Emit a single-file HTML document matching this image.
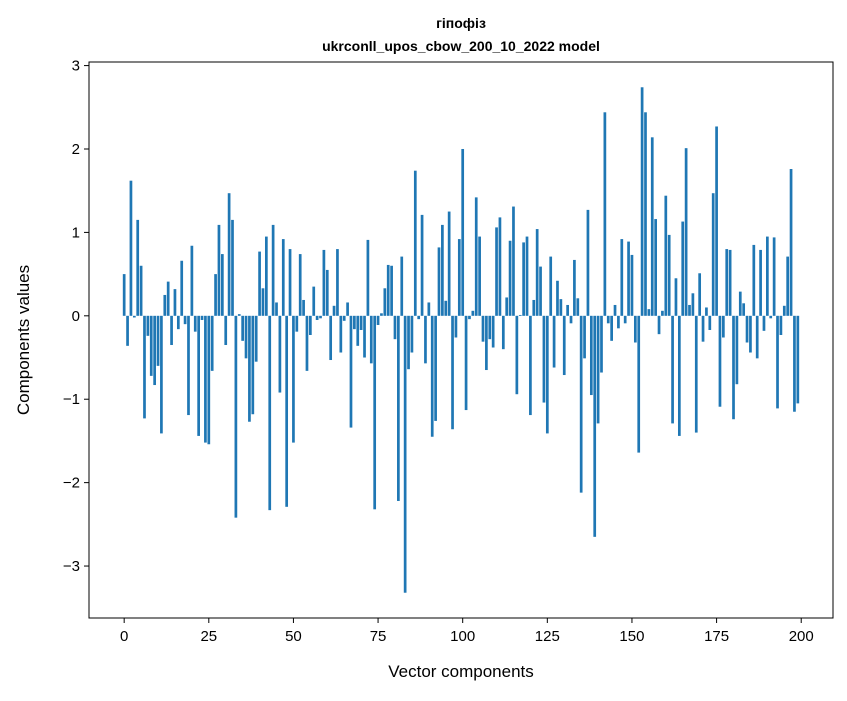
<!DOCTYPE html>
<html><head><meta charset="utf-8"><style>
body{margin:0;background:#fff;}
svg text{font-family:"Liberation Sans","DejaVu Sans",sans-serif;fill:#000;}
</style></head><body>
<svg id="chart" width="847" height="696" xmlns="http://www.w3.org/2000/svg">
<rect width="847" height="696" fill="#fff"/>
<text x="461" y="28" text-anchor="middle" font-size="14" font-weight="bold">гіпофіз</text>
<text x="461" y="51" text-anchor="middle" font-size="14" font-weight="bold">ukrconll_upos_cbow_200_10_2022 model</text>
<g id="bars"></g>
<g id="xticks"></g>
<g id="yticks"></g>
<rect x="89" y="62" width="744" height="556" fill="none" stroke="#000" stroke-width="1"/>
<text x="461" y="677" text-anchor="middle" font-size="17">Vector components</text>
<text x="0" y="0" transform="translate(29,340) rotate(-90)" text-anchor="middle" font-size="17">Components values</text>
</svg>
<script>
const values = [0.50,-0.36,1.62,-0.02,1.15,0.60,-1.23,-0.24,-0.72,-0.83,
-0.60,-1.41,0.25,0.41,-0.35,0.32,-0.16,0.66,-0.10,-1.19,
0.84,-0.19,-1.44,-0.05,-1.52,-1.54,-0.66,0.50,1.09,0.74,
-0.35,1.47,1.15,-2.42,0.02,-0.30,-0.51,-1.27,-1.18,-0.55,
0.77,0.33,0.95,-2.33,1.09,0.16,-0.92,0.92,-2.29,0.80,
-1.52,-0.19,0.74,0.19,-0.66,-0.23,0.35,-0.05,-0.03,0.79,
0.55,-0.53,0.12,0.80,-0.44,-0.06,0.16,-1.34,-0.16,-0.36,
-0.17,-0.50,0.91,-0.57,-2.32,-0.11,0.03,0.33,0.61,0.60,
-0.28,-2.22,0.71,-3.32,-0.64,-0.44,1.74,-0.04,1.21,-0.57,
0.16,-1.45,-1.26,0.82,1.09,0.18,1.25,-1.36,-0.26,0.92,
2.00,-1.13,-0.04,0.06,1.42,0.95,-0.31,-0.65,-0.28,-0.38,
1.06,1.18,-0.40,0.22,0.90,1.31,-0.94,0.01,0.88,0.95,
-1.19,0.19,1.04,0.59,-1.04,-1.41,0.71,-0.62,0.42,0.20,
-0.71,0.13,-0.09,0.67,0.21,-2.12,-0.51,1.27,-0.95,-2.65,
-1.29,-0.68,2.44,-0.09,-0.30,0.13,-0.15,0.92,-0.09,0.89,
0.73,-0.32,-1.64,2.74,2.44,0.08,2.14,1.16,-0.22,0.06,
1.44,0.97,-1.29,0.45,-1.44,1.13,2.01,0.13,0.27,-1.40,
0.51,-0.31,0.10,-0.17,1.47,2.27,-1.09,-0.26,0.80,0.79,
-1.24,-0.82,0.29,0.15,-0.32,-0.44,0.85,-0.51,0.79,-0.18,
0.95,-0.03,0.94,-1.11,-0.23,0.12,0.71,1.76,-1.15,-1.05];
const xTickLabels = [0,25,50,75,100,125,150,175,200];
const yTickLabels = [-3,-2,-1,0,1,2,3];

const NS="http://www.w3.org/2000/svg";
const L=89,R=833,T=62,B=618;
const n=values.length;
const xmin=-0.4-0.05*(n-0.2), xmax=(n-0.6)+0.05*(n-0.2);
const vmax=Math.max(0,...values), vmin=Math.min(0,...values);
const pad=0.05*(vmax-vmin);
const ymin=vmin-pad, ymax=vmax+pad;
const xs=v=>L+(v-xmin)/(xmax-xmin)*(R-L);
const ys=v=>B-(v-ymin)/(ymax-ymin)*(B-T);

const gb=document.getElementById('bars');
values.forEach((v,i)=>{
  const r=document.createElementNS(NS,'rect');
  const x0=xs(i-0.4), x1=xs(i+0.4);
  const y0=ys(Math.max(0,v)), y1=ys(Math.min(0,v));
  r.setAttribute('x',x0);r.setAttribute('width',x1-x0);
  r.setAttribute('y',y0);r.setAttribute('height',Math.max(0,y1-y0));
  r.setAttribute('fill','#1f77b4');
  
  
  gb.appendChild(r);
});
const gx=document.getElementById('xticks');
xTickLabels.forEach(t=>{
  const x=xs(t);
  const l=document.createElementNS(NS,'line');
  l.setAttribute('x1',x);l.setAttribute('x2',x);l.setAttribute('y1',B);l.setAttribute('y2',B+5);
  l.setAttribute('stroke','#000');
  
  
  gx.appendChild(l);
  const tx=document.createElementNS(NS,'text');
  tx.setAttribute('x',x);tx.setAttribute('y',B+23);tx.setAttribute('text-anchor','middle');tx.setAttribute('font-size','15');
  tx.textContent=t;
  
  
  gx.appendChild(tx);
});
const gy=document.getElementById('yticks');
yTickLabels.forEach(t=>{
  const y=ys(t);
  const l=document.createElementNS(NS,'line');
  l.setAttribute('x1',L-5);l.setAttribute('x2',L);l.setAttribute('y1',y);l.setAttribute('y2',y);
  l.setAttribute('stroke','#000');
  
  
  gy.appendChild(l);
  const tx=document.createElementNS(NS,'text');
  tx.setAttribute('x',L-9);tx.setAttribute('y',y+5);tx.setAttribute('text-anchor','end');tx.setAttribute('font-size','15');
  tx.textContent=t<0?'\u2212'+Math.abs(t):String(t);
  
  
  gy.appendChild(tx);
});
</script>
</body></html>
